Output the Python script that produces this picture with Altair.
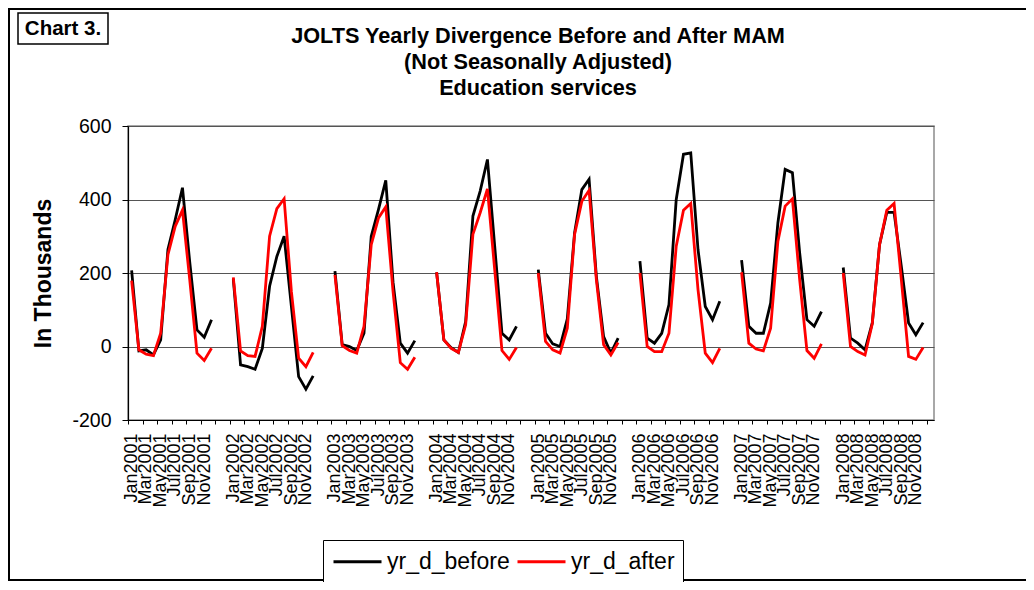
import altair as alt
import pandas as pd

months = ["Jan", "Feb", "Mar", "Apr", "May", "Jun", "Jul", "Aug", "Sep", "Oct", "Nov", "Dec"]
years = [2001, 2002, 2003, 2004, 2005, 2006, 2007, 2008]
series_names = ["yr_d_before", "yr_d_after"]

before_2001 = [207, -12, -9, -23, 18, 264, 345, 432, 230, 45, 25, 73]
before_2002 = [185, -50, -55, -62, -5, 164, 245, 300, 109, -82, -116, -80]
before_2003 = [205, 5, 0, -11, 36, 300, 373, 452, 175, 9, -18, 16]
before_2004 = [202, 18, -3, -16, 68, 355, 423, 509, 273, 36, 18, 55]
before_2005 = [209, 36, 7, 0, 75, 309, 427, 455, 191, 27, -18, 23]
before_2006 = [232, 23, 9, 36, 114, 400, 523, 527, 264, 109, 73, 123]
before_2007 = [235, 55, 36, 36, 118, 336, 482, 473, 255, 73, 55, 95]
before_2008 = [215, 23, 9, -9, 64, 277, 365, 365, 218, 64, 32, 65]

after_2001 = [179, -9, -21, -25, 36, 250, 327, 371, 182, -18, -38, -5]
after_2002 = [188, -12, -25, -27, 55, 300, 375, 402, 150, -32, -55, -16]
after_2003 = [195, 2, -11, -18, 55, 277, 350, 380, 150, -44, -62, -29]
after_2004 = [202, 18, -5, -16, 59, 305, 364, 429, 209, -11, -35, -3]
after_2005 = [200, 14, -9, -18, 50, 305, 395, 425, 182, 5, -23, 11]
after_2006 = [200, 0, -14, -14, 36, 273, 371, 389, 155, -18, -44, -5]
after_2007 = [202, 9, -7, -12, 50, 286, 382, 402, 182, -11, -32, 7]
after_2008 = [200, 0, -14, -23, 62, 277, 371, 389, 182, -27, -35, -3]

before = [before_2001, before_2002, before_2003, before_2004,
          before_2005, before_2006, before_2007, before_2008]
after = [after_2001, after_2002, after_2003, after_2004,
         after_2005, after_2006, after_2007, after_2008]

y_ticks = [-200, 0, 200, 400, 600]
title_lines = ["JOLTS Yearly Divergence Before and After MAM",
               "(Not Seasonally Adjusted)",
               "Education services"]
chart_label = "Chart 3."

rows = []
categories = []
for k, yr in enumerate(years):
    for m, mon in enumerate(months):
        cat = f"{mon}{yr}"
        categories.append(cat)
        rows.append({"cat": cat, "year": yr, "series": series_names[0], "value": before[k][m]})
        rows.append({"cat": cat, "year": yr, "series": series_names[1], "value": after[k][m]})
    n_gap = 2 if k < len(years) - 1 else 1
    for g in range(n_gap):
        categories.append(f"gap{yr}_{g}")
df = pd.DataFrame(rows)
tick_values = categories[::2]

FONT = "Liberation Sans"

x_enc = alt.X(
    "cat:N",
    sort=categories,
    scale=alt.Scale(type="point", domain=categories, padding=0.5),
    axis=alt.Axis(
        values=tick_values,
        labelExpr="indexof(datum.value, 'gap') >= 0 ? '' : datum.value",
        title=None, grid=False, labelAngle=270, labelAlign="right", labelBaseline="middle",
        labelFontSize=18, labelFont=FONT, labelColor="black", labelPadding=9,
        labelOverlap=False, labelBound=False, labelFlush=False,
        tickOffset=-3.63, labelOffset=3.4, tickSize=4, tickColor="black",
        domainColor="black", domainWidth=1.2,
    ),
)
y_enc = alt.Y(
    "value:Q",
    scale=alt.Scale(domain=[-200, 600], nice=False, zero=False),
    axis=alt.Axis(
        values=y_ticks, labelExpr="'' + datum.value",
        title="In Thousands", titleFont=FONT, titleFontSize=23,
        titleFontWeight="bold", titleColor="black", titleX=-85, titleY=147,
        titleAngle=270, titleAlign="center", titleBaseline="middle",
        labelFont=FONT, labelFontSize=19.5, labelColor="black", labelPadding=11,
        tickSize=6, tickColor="black", domainColor="black", domainWidth=1.2,
        gridColor="#555555", gridWidth=1,
    ),
)
color_enc = alt.Color(
    "series:N",
    scale=alt.Scale(domain=series_names, range=["#000000", "#ff0000"]),
    legend=alt.Legend(
        orient="none", legendX=195, legendY=414, direction="horizontal", title=None,
        strokeColor="black", fillColor="white", padding=8,
        symbolType="M-2,0H2", symbolSize=576, symbolStrokeWidth=3, symbolOffset=13,
        labelFont=FONT, labelFontSize=23, labelColor="black", labelOffset=16,
        columnPadding=1, labelLimit=300,
    ),
)

base = alt.Chart(df)
line_before = base.transform_filter(alt.datum.series == series_names[0]).mark_line(
    strokeWidth=2.8).encode(x=x_enc, y=y_enc, color=color_enc, detail="year:N")
line_after = base.transform_filter(alt.datum.series == series_names[1]).mark_line(
    strokeWidth=2.8).encode(x=x_enc, y=y_enc, color=color_enc, detail="year:N")

one = alt.Data(values=[{"t": chart_label}])
frame = alt.Chart(one).mark_rect(fill=None, stroke="black", strokeWidth=2).encode(
    x=alt.value(-119), x2=alt.value(960), y=alt.value(-117), y2=alt.value(454))
box = alt.Chart(one).mark_rect(fill="white", stroke="black", strokeWidth=1.5).encode(
    x=alt.value(-110), x2=alt.value(-20), y=alt.value(-113), y2=alt.value(-82))
box_text = alt.Chart(one).mark_text(
    font=FONT, fontSize=20.5, fontWeight="bold", color="black", align="center", baseline="middle"
).encode(x=alt.value(-65), y=alt.value(-97), text="t:N")
title_text = alt.Chart(one).mark_text(
    text=title_lines, font=FONT, fontSize=21.7, fontWeight="bold", color="black",
    align="center", baseline="alphabetic", lineHeight=26
).encode(x=alt.value(410), y=alt.value(-83))

chart = alt.layer(frame, box, box_text, title_text, line_before, line_after).properties(
    width=806, height=294, autosize="none",
    padding={"left": 120, "top": 118, "right": 92, "bottom": 162},
    background="white",
).configure_view(stroke="#8c8c8c", strokeWidth=1.5)

chart.save("out.html", embed_options={"renderer": "svg", "actions": False})
